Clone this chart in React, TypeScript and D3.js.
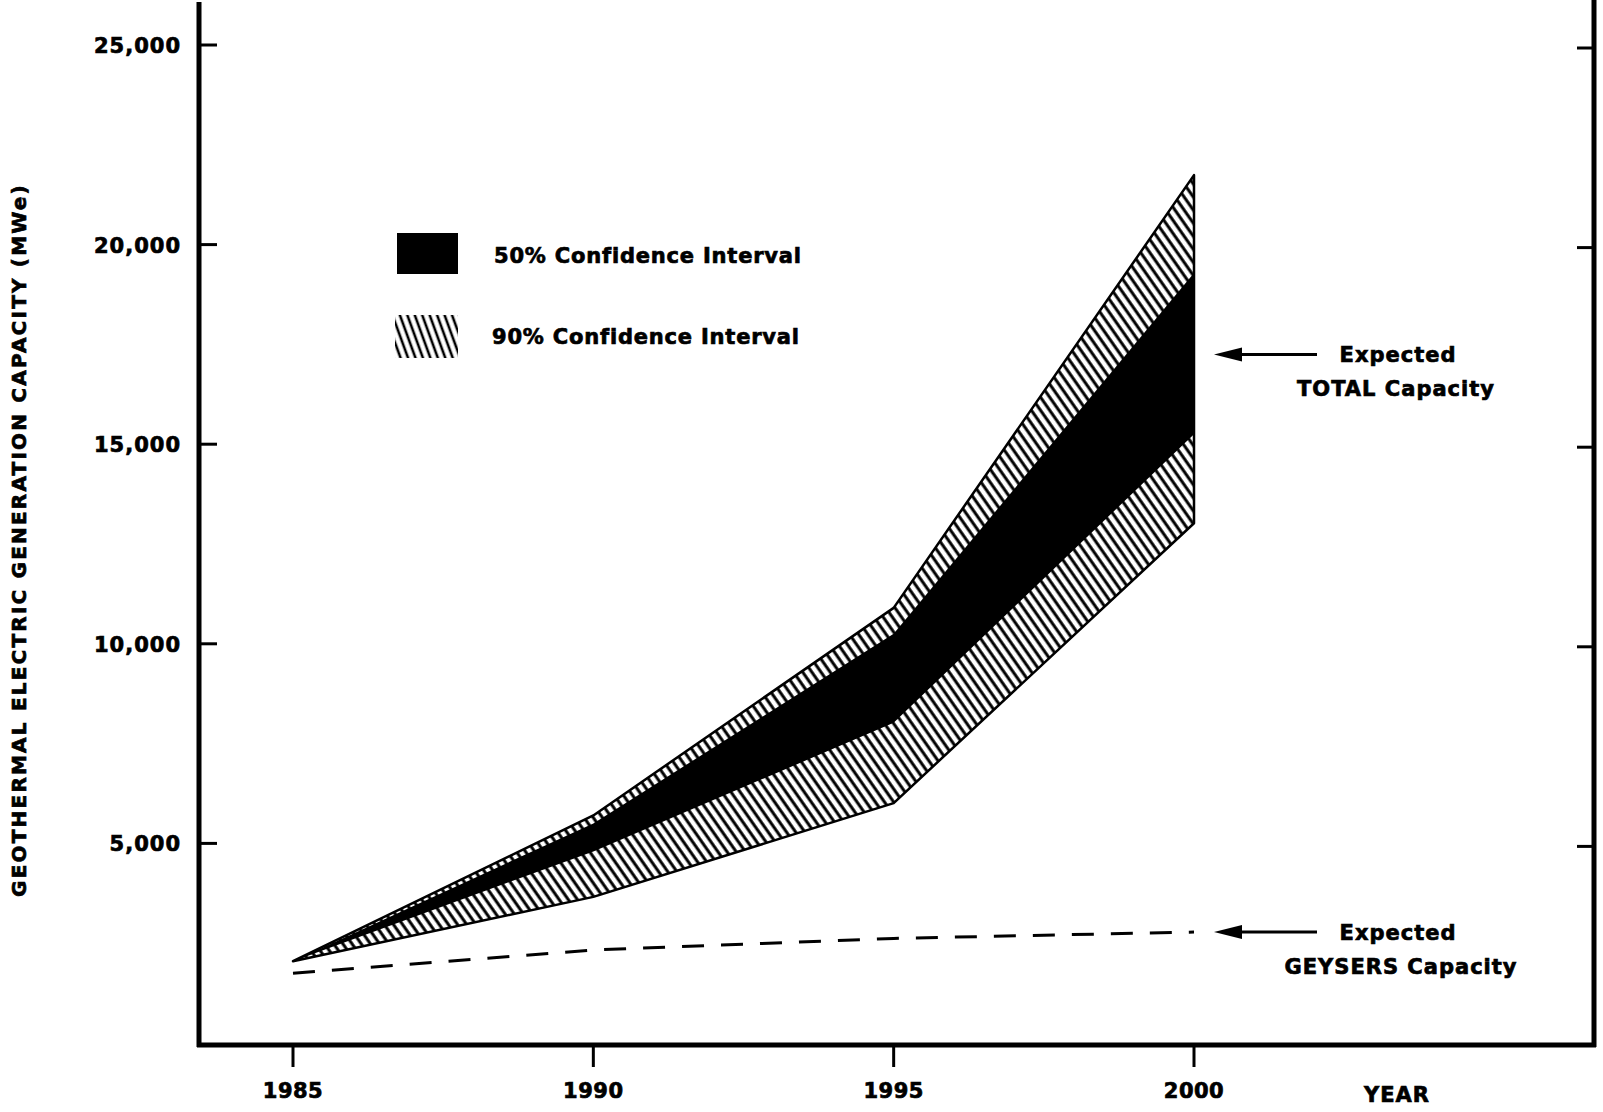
import React from "react";
import * as d3 from "d3";

// values (MWe)
const years = [1985, 1990, 1995, 2000];
const upper90 = [2050, 5700, 10900, 21740];
const upper50 = [2050, 5500, 10250, 19290];
const lower50 = [2050, 4800, 8020, 15250];
const lower90 = [2050, 3660, 6010, 13020];
const geysers = [1750, 2330, 2620, 2780];
const yTicks = [5000, 10000, 15000, 20000, 25000];
const xTicks = [1985, 1990, 1995, 2000];
const expectedTotal2000 = 17250;

const W = 1603;
const H = 1112;
const font = "'DejaVu Sans', Verdana, sans-serif";

const App = () => {
  const x = d3.scaleLinear().domain([1985, 2000]).range([293, 1194]);
  const y = d3.scaleLinear().domain([0, 25000]).range([1043, 45]);

  const left = 199;
  const right = 1594;
  const bottom = y(0) + 2;

  const band = (lo: number[], hi: number[]) =>
    d3
      .area<number>()
      .x((d, i) => x(years[i]))
      .y0((d, i) => y(lo[i]))
      .y1((d, i) => y(hi[i]))(years) as string;

  const dashed = d3
    .line<number>()
    .x((d, i) => x(years[i]))
    .y((d) => y(d))(geysers) as string;

  const arrow = (yy: number) => (
    <g>
      <line x1={1240} y1={yy} x2={1317} y2={yy} stroke="#000" strokeWidth={3} />
      <polygon points={`1214,${yy} 1242,${yy - 7} 1242,${yy + 7}`} fill="#000" />
    </g>
  );

  // heavy lettering like the original typeset figure
  const txt = {
    fontFamily: font,
    fontWeight: 700,
    fill: "#000",
    stroke: "#000",
    strokeWidth: 0.7,
  } as const;

  return (
    <svg
      width={W}
      height={H}
      style={{ position: "absolute", left: 0, top: 0, background: "#fff" }}
    >
      <defs>
        <pattern
          id="hatch"
          width={7.5}
          height={10}
          patternUnits="userSpaceOnUse"
          patternTransform="rotate(-35)"
        >
          <rect width={7.5} height={10} fill="#fff" />
          <line x1={2} y1={0} x2={2} y2={10} stroke="#000" strokeWidth={3} />
        </pattern>
        <pattern
          id="hatchLegend"
          width={7}
          height={10}
          patternUnits="userSpaceOnUse"
          patternTransform="rotate(-20)"
        >
          <rect width={7} height={10} fill="#fff" />
          <line x1={2} y1={0} x2={2} y2={10} stroke="#000" strokeWidth={2.6} />
        </pattern>
      </defs>

      {/* 90% band */}
      <path d={band(lower90, upper90)} fill="url(#hatch)" />
      {/* 50% band */}
      <path d={band(lower50, upper50)} fill="#000" />
      <path
        d={band(lower90, upper90)}
        fill="none"
        stroke="#000"
        strokeWidth={2.5}
        strokeLinejoin="round"
      />

      {/* expected geysers */}
      <path
        d={dashed}
        fill="none"
        stroke="#000"
        strokeWidth={3}
        strokeDasharray="22 17"
      />

      {/* frame */}
      <line x1={left} y1={2} x2={left} y2={bottom + 2} stroke="#000" strokeWidth={5} />
      <line x1={right} y1={0} x2={right} y2={bottom + 2} stroke="#000" strokeWidth={5} />
      <line x1={left - 2} y1={bottom} x2={right + 2} y2={bottom} stroke="#000" strokeWidth={5} />

      {yTicks.map((t) => (
        <g key={t}>
          <line x1={left} y1={y(t)} x2={left + 18} y2={y(t)} stroke="#000" strokeWidth={3} />
          <line x1={right - 17} y1={y(t) + 3} x2={right} y2={y(t) + 3} stroke="#000" strokeWidth={3} />
          <text
            {...txt}
            x={181}
            y={y(t) + 1}
            fontSize={21}
            letterSpacing={1}
            textAnchor="end"
            dominantBaseline="central"
          >
            {d3.format(",")(t)}
          </text>
        </g>
      ))}

      {xTicks.map((t) => (
        <g key={t}>
          <line x1={x(t)} y1={bottom} x2={x(t)} y2={bottom + 22} stroke="#000" strokeWidth={3} />
          <text
            {...txt}
            x={x(t)}
            y={1091}
            fontSize={21}
            letterSpacing={0.5}
            textAnchor="middle"
            dominantBaseline="central"
          >
            {t}
          </text>
        </g>
      ))}
      <text {...txt} x={1397} y={1095} fontSize={21} letterSpacing={1} textAnchor="middle" dominantBaseline="central">
        YEAR
      </text>

      <text
        {...txt}
        transform="translate(19,540) rotate(-90)"
        fontSize={20}
        letterSpacing={2.2}
        textAnchor="middle"
        dominantBaseline="central"
      >
        GEOTHERMAL ELECTRIC GENERATION CAPACITY (MWe)
      </text>

      {/* legend */}
      <rect x={397} y={233} width={61} height={41} fill="#000" />
      <text {...txt} x={494} y={256} fontSize={21} letterSpacing={0.8} dominantBaseline="central">
        50% Confidence Interval
      </text>
      <rect x={395} y={315} width={63} height={43} fill="url(#hatchLegend)" />
      <text {...txt} x={492} y={337} fontSize={21} letterSpacing={0.8} dominantBaseline="central">
        90% Confidence Interval
      </text>

      {/* annotations */}
      {arrow(y(expectedTotal2000))}
      <text {...txt} x={1398} y={355} fontSize={21} letterSpacing={1} textAnchor="middle" dominantBaseline="central">
        Expected
      </text>
      <text {...txt} x={1396} y={389} fontSize={21} letterSpacing={1} textAnchor="middle" dominantBaseline="central">
        TOTAL Capacity
      </text>

      {arrow(y(geysers[3]))}
      <text {...txt} x={1398} y={933} fontSize={21} letterSpacing={1} textAnchor="middle" dominantBaseline="central">
        Expected
      </text>
      <text {...txt} x={1401} y={967} fontSize={21} letterSpacing={1} textAnchor="middle" dominantBaseline="central">
        GEYSERS Capacity
      </text>
    </svg>
  );
};

export default App;
